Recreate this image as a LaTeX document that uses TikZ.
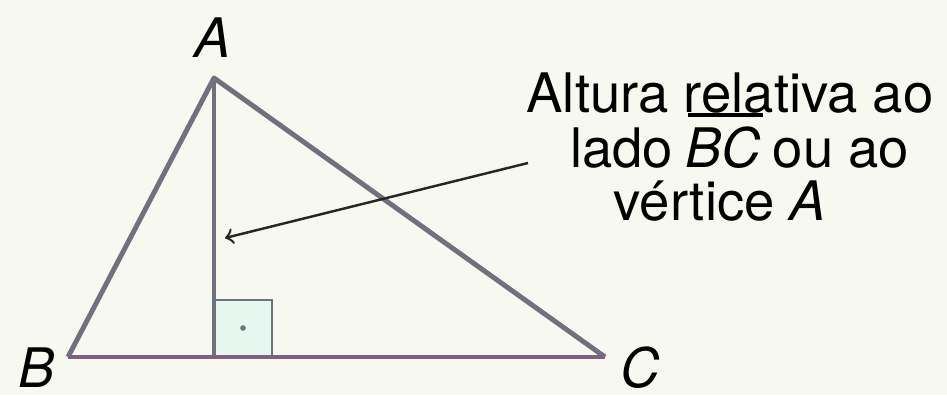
\documentclass[tikz,border=0pt]{standalone}
\usepackage{fontspec}
\setmainfont{TeX Gyre Heros}
\usepackage{tikz}
\usetikzlibrary{calc,positioning}

\definecolor{fundo}{RGB}{247,248,239}
\definecolor{cinza}{RGB}{112,112,126}
\definecolor{roxo}{RGB}{128,96,128}
\definecolor{verdinho}{RGB}{230,247,240}

\begin{document}
\begin{tikzpicture}[font=\fontsize{15.5}{15.3}\selectfont]
  \fill[fundo] (0,0) rectangle (9.47,3.95);
  \useasboundingbox (0,0) rectangle (9.47,3.95);
  % Vértices do triângulo
  \coordinate (A) at (2.14,3.17);
  \coordinate (B) at (0.68,0.38);
  \coordinate (C) at (6.05,0.38);
  % Pé da altura
  \coordinate (H) at (2.14,0.38);
  % Seta
  \coordinate (P) at (5.28,2.32);
  \coordinate (Q) at (2.25,1.57);

  \filldraw[fill=verdinho, draw=cinza, line width=0.8pt] (H) rectangle ++(0.58,0.57);
  \fill[cinza] ($(H)+(0.29,0.29)$) circle (0.8pt);
  \draw[cinza, line width=1.4pt] (A) -- (H);
  \draw[cinza, line width=1.4pt, line join=round] (C) -- (A) -- (B);
  \draw[roxo, line width=1.4pt] (B) -- (C);
  \draw[black!85, line width=0.7pt, ->] (P) -- (Q);

  \node (lA) at (2.13,3.57) {\textit{A}};
  \node[anchor=base] (lB) at (0.37,0.08) {\textit{B}};
  \node[anchor=base] (lC) at (6.40,0.08) {\textit{C}};
  % Legenda
  \node[anchor=base, inner sep=0pt] (l1) at (7.30,2.83) {Altura relativa ao};
  \node[anchor=base, inner sep=0pt] (bc) at (7.23,2.28) {\textit{BC}};
  \node[base left=0.3em of bc, inner sep=0pt] (l2a) {lado};
  \node[base right=0.3em of bc, inner sep=0pt] (l2b) {ou ao};
  \node[anchor=base, inner sep=0pt] (l3) at (7.20,1.75) {vértice \textit{A}};
  \draw[line width=0.9pt] ($(bc.north west)+(1pt,3pt)$) -- ($(bc.north east)+(0.5pt,3pt)$);
\end{tikzpicture}
\end{document}
